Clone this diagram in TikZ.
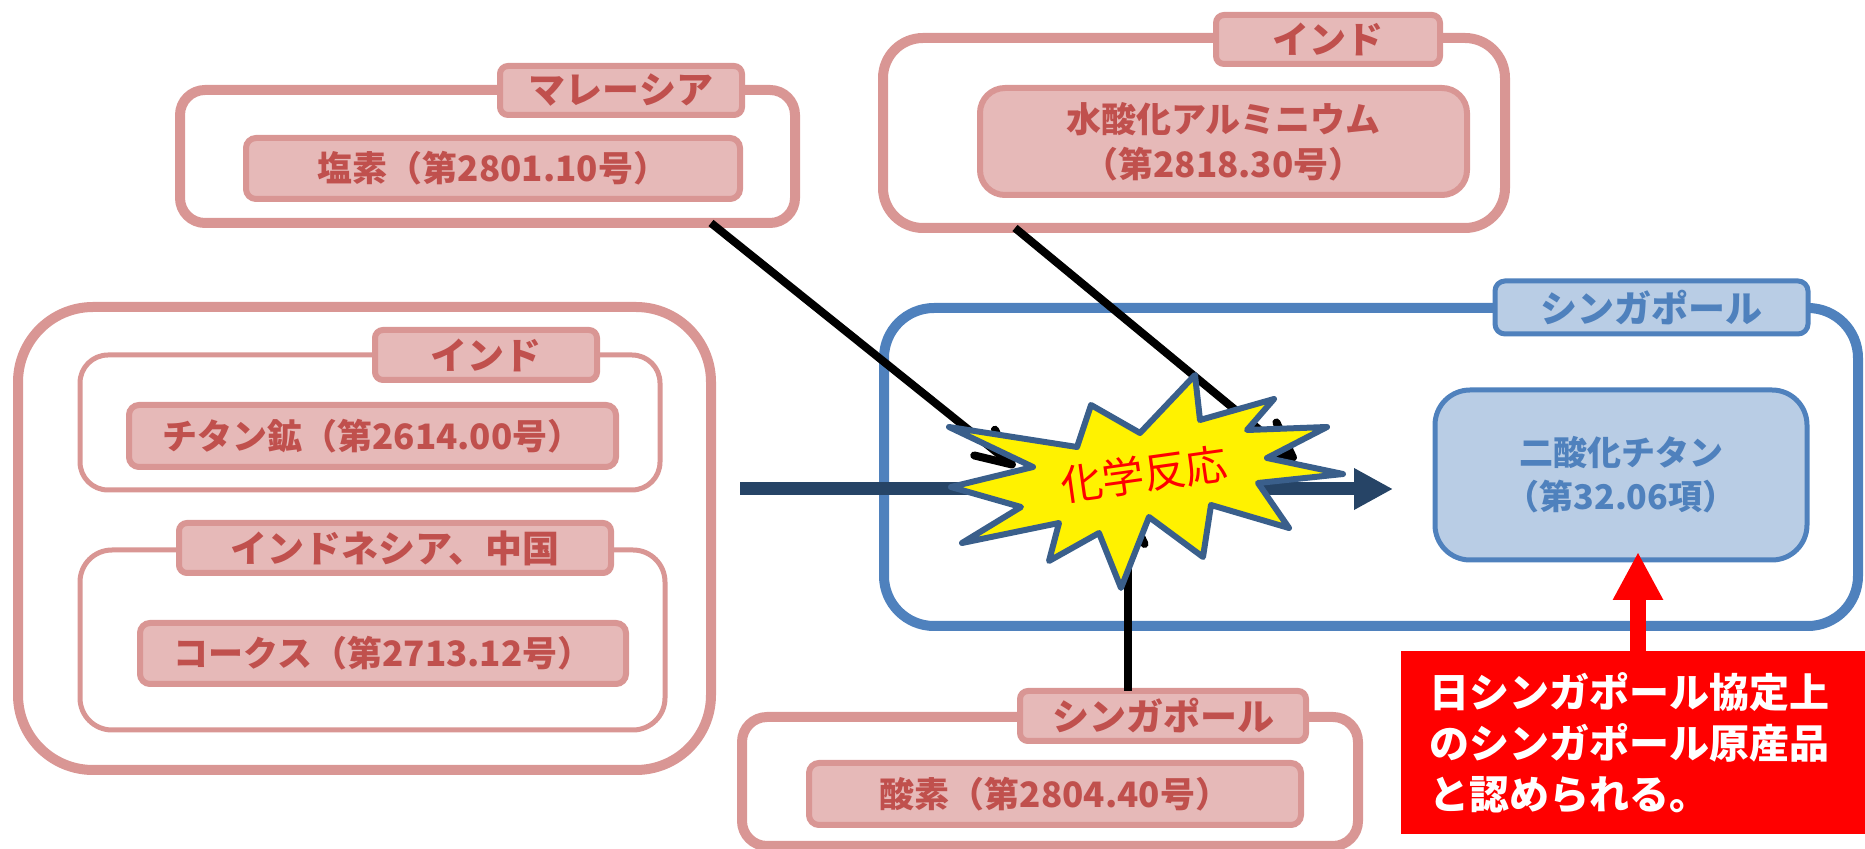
\documentclass[tikz,border=0pt]{standalone}
\usepackage{fontspec}
\setmainfont{Noto Sans CJK JP}
\usetikzlibrary{arrows.meta}
\definecolor{pinkB}{HTML}{D99694}
\definecolor{pinkF}{HTML}{E6B9B8}
\definecolor{pinkT}{HTML}{C0504D}
\definecolor{blueB}{HTML}{4F81BD}
\definecolor{blueF}{HTML}{B9CDE5}
\definecolor{starB}{HTML}{3A5F8B}
\definecolor{navy}{HTML}{264466}
\definecolor{alertred}{HTML}{FF0000}
\tikzset{
  pinkouter/.style={draw=pinkB, line width=5pt, inner sep=0pt},
  pinkinner/.style={draw=pinkB, line width=2.5pt, inner sep=0pt, rounded corners=14pt},
  pinktab/.style={draw=pinkB, fill=pinkF, line width=3pt, rounded corners=4pt, inner sep=0pt,
    text=pinkT, font=\bfseries\fontsize{18.5pt}{22pt}\selectfont},
  pinklab/.style={draw=pinkB, fill=pinkF, line width=3pt, rounded corners=5pt, inner sep=0pt,
    text=pinkT, align=center, font=\bfseries\fontsize{17.5pt}{22.5pt}\selectfont},
  blueouter/.style={draw=blueB, line width=5pt, inner sep=0pt, rounded corners=25pt},
  bluetab/.style={draw=blueB, fill=blueF, line width=2.5pt, rounded corners=5pt, inner sep=0pt,
    text=blueB, font=\bfseries\fontsize{18.5pt}{22pt}\selectfont},
  bluelab/.style={draw=blueB, fill=blueF, line width=2.5pt, rounded corners=17.5pt, inner sep=0pt,
    text=blueB, align=center, font=\bfseries\fontsize{17pt}{22pt}\selectfont},
  feed/.style={draw=black, line width=4pt, -{Straight Barb[length=17.5pt,width=16.5pt,round]}},
  flow/.style={draw=navy, line width=6.5pt, -{Triangle[length=19.5pt,width=19.5pt]}},
  origin/.style={draw=alertred, line width=8pt, -{Triangle[length=24pt,width=23.5pt]}},
  burst/.style={draw=starB, fill=yellow, line width=3pt, line join=round},
}
\begin{document}
\begin{tikzpicture}[x=0.5pt, y=-0.5pt]
\useasboundingbox (0,0) rectangle (1865,849);

% Malaysia
\node[pinkouter, rounded corners=12.5pt, minimum width=307.5pt, minimum height=66.5pt] (mal) at (487.5,156.5) {};
\node[pinktab, minimum width=121pt, minimum height=24.5pt] (maltab) at (621,90.5) {マレーシア};
\node[pinklab, minimum width=247pt, minimum height=30.5pt] (chlor) at (493,168.5) {塩素（第2801.10号）};

% India (top)
\node[pinkouter, rounded corners=20pt, minimum width=311pt, minimum height=95pt] (indtop) at (1194,133) {};
\node[pinktab, minimum width=112pt, minimum height=24.5pt] (indtoptab) at (1328,39.5) {インド};
\node[pinklab, rounded corners=12.5pt, minimum width=243.5pt, minimum height=53.5pt] (alum) at (1223.5,141.5) {水酸化アルミニウム\\（第2818.30号）};

% Left group
\node[pinkouter, rounded corners=37.5pt, minimum width=346.5pt, minimum height=231.5pt] (grp) at (364.5,538.5) {};
\node[pinkinner, minimum width=290pt, minimum height=67.5pt] (indbox) at (370,422.5) {};
\node[pinktab, minimum width=111pt, minimum height=25pt] (indtab) at (486,355) {インド};
\node[pinklab, minimum width=243.5pt, minimum height=31pt] (ore) at (372.5,436) {チタン鉱（第2614.00号）};
\node[pinkinner, rounded corners=16pt, minimum width=292.5pt, minimum height=90pt] (idcbox) at (372.5,640) {};
\node[pinktab, minimum width=216pt, minimum height=25pt] (idctab) at (395,548) {インドネシア、中国};
\node[pinklab, minimum width=243pt, minimum height=30.5pt] (coke) at (383,653.5) {コークス（第2713.12号）};

% Singapore (product)
\node[blueouter, minimum width=487pt, minimum height=159pt] (sgp) at (1371,467) {};
\node[bluetab, minimum width=156.5pt, minimum height=26.5pt] (sgptab) at (1651.5,307.5) {シンガポール};
\node[bluelab, minimum width=186pt, minimum height=85pt] (tio2) at (1621,475) {二酸化チタン\\（第32.06項）};

% Singapore (oxygen)
\node[pinkouter, rounded corners=12.5pt, minimum width=308pt, minimum height=64.5pt] (oxy) at (1050,781.5) {};
\node[pinktab, minimum width=143pt, minimum height=25pt] (oxytab) at (1163,716) {シンガポール};
\node[pinklab, minimum width=246pt, minimum height=31pt] (oxlab) at (1055,794) {酸素（第2804.40号）};

% connectors
\coordinate (malOut) at (711,223);
\coordinate (malIn) at (1015,467);
\coordinate (indOut) at (1015,228);
\coordinate (indIn) at (1296,460);
\coordinate (oxOut) at (1128,691);
\coordinate (oxIn) at (1128,505);
\coordinate (flowA) at (740,489);
\coordinate (flowB) at (1393,489);

\draw[flow] (flowA) -- (flowB);
\draw[feed] (malOut) -- (malIn);
\draw[feed] (indOut) -- (indIn);
\draw[feed] (oxOut) -- (oxIn);

% reaction burst
\draw[burst] (1195,375) -- (1200,420) -- (1274,399) -- (1247,430) -- (1327,427) -- (1267,458)
  -- (1343,474) -- (1258,483) -- (1289,528) -- (1211,505) -- (1203,557) -- (1149,517)
  -- (1121,588) -- (1099,533) -- (1049,561) -- (1059,523) -- (962,543) -- (1021,507)
  -- (951,487) -- (1033,467) -- (949,427) -- (1077,447) -- (1091,405) -- (1140,433) -- cycle;
\node[text=alertred, rotate=8, inner sep=0pt, font=\fontsize{21pt}{24pt}\selectfont] (react) at (1144,474) {化学反応};

% origin note
\node[fill=alertred, minimum width=232pt, minimum height=91.5pt, inner xsep=14pt, inner ysep=0pt,
  text width=204pt, align=left, text=white, font=\bfseries\fontsize{20pt}{25.5pt}\selectfont] (note) at (1633,742.5)
  {日シンガポール協定上\\のシンガポール原産品\\と認められる。};
\coordinate (redA) at (1638,651);
\coordinate (redB) at (1638,552);
\draw[origin] (redA) -- (redB);
\end{tikzpicture}
\end{document}
